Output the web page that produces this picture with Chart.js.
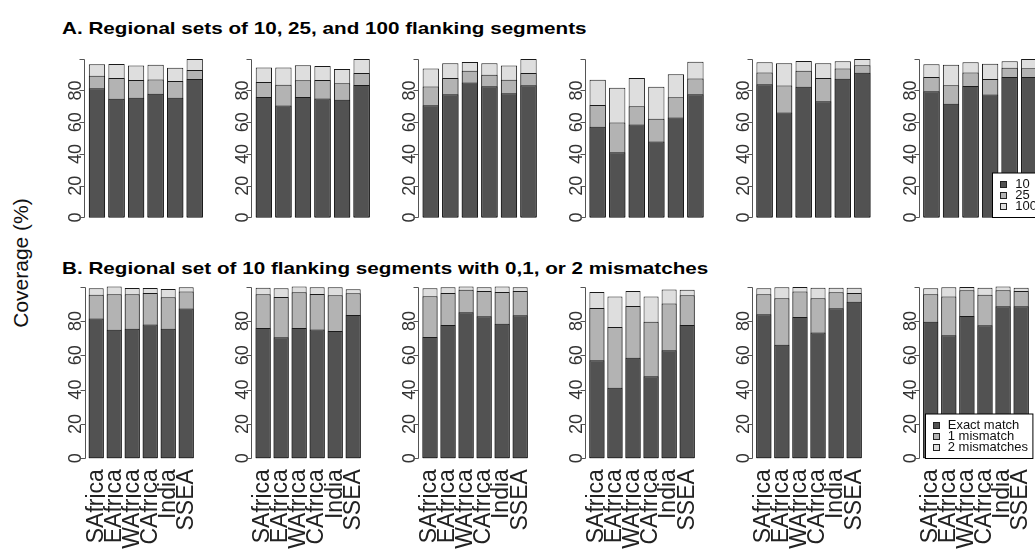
<!DOCTYPE html>
<html lang="en">
<head>
    <meta charset="UTF-8">
    <title>Regional coverage</title>
    <script src="https://cdn.jsdelivr.net/npm/chart.js"></script>
    <style>
        body {
            margin: 0;
            width: 1035px;
            height: 551px;
            overflow: hidden;
            position: relative;
            background: #fff;
            font-family: "Liberation Sans", Arial, sans-serif;
        }
        canvas { position: absolute; }
        .title {
            position: absolute;
            left: 62px;
            font-size: 17px;
            line-height: 17px;
            font-weight: bold;
            color: #000;
            white-space: nowrap;
            transform: scaleX(1.215);
            transform-origin: left center;
        }
        #ylab {
            position: absolute;
            left: 20px;
            top: 263px;
            font-size: 21px;
            line-height: 21px;
            color: #111;
            white-space: nowrap;
            transform: translate(-50%, -50%) rotate(-90deg);
        }
    </style>
</head>
<body>
    <div class="title" style="top: 20px;">A. Regional sets of 10, 25, and 100 flanking segments</div>
    <div class="title" style="top: 260px;">B. Regional set of 10 flanking segments with 0,1, or 2 mismatches</div>
    <div id="ylab">Coverage (%)</div>

    <script>
        var regions = ['SAfrica', 'EAfrica', 'WAfrica', 'CAfrica', 'India', 'SSEA'];
        var yTicks = [0, 20, 40, 60, 80, 100];
        var labelsA = ['10', '25', '100'];
        var labelsB = ['Exact match', '1 mismatch', '2 mismatches'];

        // coverage (%) per panel, one row per panel, columns follow regions
        var seg10 = [
            [81.4, 74.8, 75.5, 77.9, 75.5, 87.2],
            [75.9, 70.5, 75.9, 75.0, 74.2, 83.5],
            [70.7, 77.7, 85.0, 82.7, 78.3, 83.3],
            [57.1, 41.1, 58.5, 47.8, 63.0, 77.7],
            [83.9, 66.1, 82.3, 73.2, 87.4, 91.2],
            [79.6, 71.7, 82.9, 77.5, 88.5, 88.5]
        ];
        var seg25 = [
            [89.3, 87.9, 86.6, 87.0, 86.0, 93.0],
            [85.4, 83.7, 86.4, 86.6, 84.6, 91.0],
            [82.5, 87.9, 92.4, 89.9, 86.8, 91.0],
            [70.9, 59.9, 70.1, 62.2, 75.7, 87.6],
            [91.4, 83.1, 92.4, 87.9, 93.8, 95.9],
            [88.5, 83.3, 91.4, 87.2, 94.3, 94.1]
        ];
        var seg100 = [
            [96.5, 96.7, 95.7, 96.3, 94.3, 99.8],
            [94.5, 94.5, 95.9, 95.5, 93.6, 99.8],
            [93.8, 97.2, 98.0, 97.2, 95.7, 99.8],
            [86.8, 81.7, 87.9, 82.3, 90.3, 98.2],
            [97.8, 97.2, 98.6, 97.2, 98.4, 99.8],
            [96.5, 96.3, 97.8, 96.9, 98.4, 99.8]
        ];
        // exact match is the same as the 10 segment set
        var exact = seg10;
        var mm1 = [
            [95.3, 95.5, 95.5, 96.3, 93.8, 97.1],
            [95.5, 94.0, 96.7, 95.7, 95.0, 96.1],
            [94.4, 96.3, 98.1, 97.5, 96.9, 97.5],
            [87.6, 76.5, 88.7, 79.6, 90.1, 95.0],
            [95.5, 93.2, 97.1, 93.2, 96.7, 96.3],
            [95.5, 94.2, 97.9, 95.3, 97.9, 97.5]
        ];
        var mm2 = [
            [99.0, 100, 99.2, 99.2, 98.6, 99.6],
            [99.4, 99.0, 100, 99.6, 99.6, 98.4],
            [99.0, 99.6, 100, 99.6, 100, 99.6],
            [96.9, 94.2, 97.5, 94.2, 98.3, 98.1],
            [99.0, 99.6, 99.8, 99.4, 99.4, 99.4],
            [99.0, 99.6, 99.8, 99.4, 100, 99.4]
        ];

        var fills = ['#525252', '#b3b3b3', '#dedede'];
        var fontFam = '"Liberation Sans", Arial, sans-serif';
        Chart.defaults.font.family = fontFam;

        // page geometry of the panels
        var firstLeft = 87.2, panelStep = 166.9, areaW = 117.3;
        var rows = [
            { top: 52.43, bottom: 237.87, canvasTop: 38, canvasH: 214 },
            { top: 279.73, bottom: 465.17, canvasTop: 265, canvasH: 286 }
        ];

        // R style y axis: line from 0 to 100, set a bit left of the bars
        var rAxis = {
            id: 'rAxis',
            afterDraw: function (chart) {
                var ctx = chart.ctx, a = chart.chartArea, y = chart.scales.y;
                var unit = (a.right - a.left) / 7.2;
                var x = Math.round(a.left - 0.18 * unit) + 0.5;
                ctx.save();
                ctx.strokeStyle = '#555';
                ctx.lineWidth = 1;
                ctx.beginPath();
                ctx.moveTo(x, Math.round(y.getPixelForValue(0)) + 0.5);
                ctx.lineTo(x, Math.round(y.getPixelForValue(100)) + 0.5);
                yTicks.forEach(function (v) {
                    var p = Math.round(y.getPixelForValue(v)) + 0.5;
                    ctx.moveTo(x, p);
                    ctx.lineTo(x - 5, p);
                });
                ctx.stroke();
                ctx.restore();
            }
        };

        // boxed legend in the bottom right corner
        var boxLegend = {
            id: 'boxLegend',
            afterDraw: function (chart, args, opts) {
                if (!opts.show) return;
                var ctx = chart.ctx, a = chart.chartArea, y = chart.scales.y;
                var sets = chart.data.datasets;
                var unit = (a.right - a.left) / 7.2;
                ctx.save();
                ctx.font = '13px ' + fontFam;
                var tw = 0;
                sets.forEach(function (d) { tw = Math.max(tw, ctx.measureText(d.label).width); });
                var right = a.right + 0.18 * unit;
                var bottom = Math.round(y.getPixelForValue(0)) + 0.5;
                var h = 44.5, top = bottom - h;
                var textX = right - 5 - tw;
                var left = Math.round(textX - 23) + 0.5;
                ctx.fillStyle = '#fff';
                ctx.fillRect(left, top, right - left, h);
                ctx.strokeStyle = '#000';
                ctx.lineWidth = 1;
                ctx.strokeRect(left, top, right - left, h);
                ctx.textBaseline = 'middle';
                sets.forEach(function (d, i) {
                    var cy = top + 11 + 11.2 * i;
                    var sx = Math.round(textX - 15) + 0.5, sy = Math.round(cy - 3) + 0.5;
                    ctx.fillStyle = d.backgroundColor;
                    ctx.fillRect(sx, sy, 6, 6);
                    ctx.strokeStyle = '#222';
                    ctx.strokeRect(sx, sy, 6, 6);
                    ctx.fillStyle = '#111';
                    ctx.fillText(d.label, textX, cy);
                });
                ctx.restore();
            }
        };

        function makePanel(row, i, series, names) {
            var g = rows[row];
            var areaLeft = firstLeft + panelStep * i;
            var cLeft = Math.floor(areaLeft) - 46;
            var yW = areaLeft - cLeft;
            var cW = Math.ceil(yW + areaW + 14);
            var canvas = document.createElement('canvas');
            canvas.width = cW;
            canvas.height = g.canvasH;
            canvas.style.left = cLeft + 'px';
            canvas.style.top = g.canvasTop + 'px';
            document.body.appendChild(canvas);
            var xH = g.canvasTop + g.canvasH - g.bottom;

            new Chart(canvas, {
                type: 'bar',
                data: {
                    labels: regions,
                    datasets: series.map(function (s, k) {
                        return {
                            label: names[k],
                            data: s[i],
                            backgroundColor: fills[k],
                            borderColor: '#1a1a1a',
                            borderWidth: 1,
                            borderSkipped: false,
                            grouped: false,
                            categoryPercentage: 1,
                            barPercentage: 1 / 1.2
                        };
                    })
                },
                options: {
                    responsive: false,
                    animation: false,
                    layout: {
                        padding: {
                            top: g.top - g.canvasTop,
                            right: cW - yW - areaW,
                            bottom: row === 0 ? xH : 0,
                            left: 0
                        }
                    },
                    plugins: {
                        legend: { display: false },
                        tooltip: { enabled: false },
                        boxLegend: { show: i === 5 }
                    },
                    scales: {
                        x: {
                            display: row === 1,
                            grid: { display: false, drawTicks: false },
                            border: { display: false },
                            ticks: {
                                autoSkip: false,
                                minRotation: 90,
                                maxRotation: 90,
                                padding: 4,
                                color: '#222',
                                font: { size: 23 }
                            },
                            afterFit: function (s) { s.height = xH; }
                        },
                        y: {
                            min: -4,
                            max: 104,
                            grid: { display: false, drawTicks: false },
                            border: { display: false },
                            afterBuildTicks: function (s) {
                                s.ticks = yTicks.map(function (v) { return { value: v }; });
                            },
                            ticks: {
                                autoSkip: false,
                                minRotation: 90,
                                maxRotation: 90,
                                crossAlign: 'center',
                                padding: 1,
                                color: '#333',
                                font: { size: 18 },
                                callback: function (v) { return v === 100 ? '' : v; }
                            },
                            afterFit: function (s) { s.width = yW; }
                        }
                    }
                },
                plugins: [rAxis, boxLegend]
            });
        }

        for (var i = 0; i < 6; i++) {
            makePanel(0, i, [seg10, seg25, seg100], labelsA);
            makePanel(1, i, [exact, mm1, mm2], labelsB);
        }
    </script>
</body>
</html>
